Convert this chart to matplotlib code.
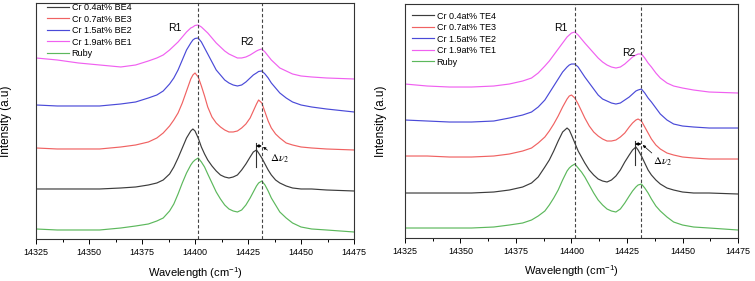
import matplotlib
matplotlib.use("Agg")
import matplotlib.pyplot as plt

plt.rcParams['font.family'] = ['Liberation Sans', 'DejaVu Sans']
plt.rcParams['mathtext.fontset'] = 'stix'

# wavenumber grid (cm-1) the spectra were read at
wn = [14325, 14335, 14345, 14355, 14365,
      14372, 14378, 14382, 14385, 14388,
      14390, 14392, 14394, 14396, 14398,
      14399, 14400, 14401.5, 14403, 14404.5,
      14406, 14408, 14410, 14412, 14414,
      14416, 14418, 14420, 14422, 14424,
      14426, 14427.5, 14429, 14430, 14431.5,
      14433, 14434.5, 14436, 14438, 14440,
      14443, 14446, 14450, 14455, 14462, 14475]

# left panel (BE), stacked intensities in arbitrary units
be4 = [50, 50, 50, 50, 51,
       52, 54, 56, 59, 65,
       72, 81, 91, 101, 108,
       110, 108, 101, 92, 85,
       79, 73, 68, 64, 62,
       61, 62, 64, 69, 75,
       82, 87, 89, 86, 81,
       75, 69, 64, 59, 56,
       53, 51, 50, 50, 49, 48]
be3 = [91, 90, 90, 90, 92,
       94, 97, 101, 106, 113,
       119, 126, 136, 148, 160,
       164, 166, 162, 153, 143,
       132, 122, 116, 112, 109,
       107, 107, 108, 111, 115,
       121, 128, 135, 139, 136,
       127, 118, 111, 105, 101,
       96, 94, 92, 91, 90, 89]
be2 = [134, 133, 133, 133, 135,
       137, 141, 144, 148, 155,
       161, 169, 179, 189, 196,
       199, 200.5, 201, 197, 191,
       185, 177, 169, 164, 159,
       156, 154, 153, 154, 157,
       161, 164, 166, 167.5, 168,
       165, 161, 156, 151, 146,
       141, 137, 134, 132, 130, 127]
be1 = [181, 179, 176, 174, 172,
       174, 178, 181, 184, 189,
       193, 197, 202, 207, 211,
       212, 213.5, 214, 212, 209,
       206, 201, 196, 192, 188,
       185, 183, 181, 181, 182,
       184, 186, 188, 189, 190,
       187, 183, 179, 175, 171,
       168, 165, 163, 162, 161, 160]
ruby_l = [10, 9, 9, 9, 11,
          13, 15, 18, 21, 28,
          35, 45, 56, 66, 74,
          77, 79, 81, 77, 72,
          65, 56, 47, 40, 34,
          30, 28, 27, 29, 34,
          41, 47, 53, 56, 58,
          54, 48, 41, 34, 27,
          21, 16, 12, 10, 9, 7]

# right panel (TE)
te4 = [45, 45, 45, 45, 46,
       48, 51, 55, 61, 71,
       78, 87, 97, 106, 110,
       108, 103, 95, 87, 81,
       75, 68, 63, 59, 57,
       56, 58, 62, 68, 76,
       83, 88, 91, 88, 82,
       75, 68, 63, 58, 54,
       50, 48, 46, 45, 45, 44]
te3 = [82, 82, 81, 81, 82,
       84, 87, 90, 95, 101,
       107, 114, 122, 131, 139,
       142, 143, 140, 134, 127,
       120, 112, 106, 102, 99,
       97, 97, 98, 101, 105,
       111, 115, 118, 119, 117,
       111, 105, 99, 93, 89,
       85, 83, 81, 80, 79, 79]
te2 = [118, 117, 116, 116, 117,
       120, 123, 126, 131, 138,
       145, 152, 159, 166, 171,
       173, 174, 174, 171, 166,
       161, 155, 149, 143, 139,
       137, 135, 134, 135, 138,
       141, 144, 147, 148, 149,
       145, 140, 136, 130, 124,
       118, 114, 112, 111, 110, 110]
te1 = [154, 152, 151, 151, 152,
       154, 157, 160, 165, 172,
       177, 183, 189, 195, 201,
       203, 205, 206, 203, 199,
       195, 190, 185, 180, 176,
       173, 171, 170, 171, 174,
       178, 181, 183, 184, 184,
       180, 175, 171, 165, 160,
       155, 152, 150, 148, 146, 145]
ruby_r = [10, 10, 10, 10, 11,
          13, 15, 18, 22, 27,
          33, 40, 48, 58, 67,
          70, 72, 74, 70, 66,
          61, 53, 45, 38, 33,
          29, 27, 26, 29, 35,
          42, 47, 51, 53, 54,
          50, 45, 39, 32, 27,
          21, 16, 13, 11, 10, 8]

r1_pos = 14401.5
r2_pos = 14431.5
colors = ['#3c3c3c', '#f06262', '#4a4ad8', '#f060f0', '#5cb85c']

fig = plt.figure(figsize=(7.55, 2.81), dpi=100)
ax1 = fig.add_axes([0.0477, 0.1495, 0.4212, 0.8399])
ax2 = fig.add_axes([0.5364, 0.153, 0.4411, 0.8327])


def draw_panel(ax, series, labels, ylim, leg_anchor, r1_xy, r2_xy, shift_x, shift_y, dnu_xy):
    for y, lab, c in zip(series, labels, colors):
        ax.plot(wn, y, color=c, lw=0.85, label=lab)
    ax.axvline(r1_pos, color='#444444', lw=0.8, ls=(0, (3, 2)))
    ax.axvline(r2_pos, color='#444444', lw=0.8, ls=(0, (3, 2)))
    ax.set_xlim(14325, 14475)
    ax.set_ylim(*ylim)
    ax.set_xticks(range(14325, 14476, 25))
    ax.set_xticks([14337.5 + 25 * i for i in range(6)], minor=True)
    ax.set_yticks([])
    ax.tick_params(axis='x', direction='out', length=3.5, width=0.7, labelsize=6.5, pad=3)
    ax.tick_params(axis='x', which='minor', direction='out', length=2.5, width=0.7)
    for s in ax.spines.values():
        s.set_linewidth(0.8)
        s.set_color('#333333')
    ax.set_xlabel(r'Wavelength (cm$^{\mathregular{-1}}$)', fontsize=8)
    ax.set_ylabel('Intensity (a.u)', fontsize=8.5)
    ax.xaxis.set_label_coords(0.5, -0.11)

    ax.text(*r1_xy, 'R1', fontsize=7.5, ha='center', va='center')
    ax.text(*r2_xy, 'R2', fontsize=7.5, ha='center', va='center')

    # shift marker at R2
    ax.plot([shift_x, shift_x], [shift_y - 21, shift_y + 3], color='#333333', lw=0.8)
    ax.annotate('', xy=(r2_pos, shift_y), xytext=(shift_x, shift_y),
                arrowprops=dict(arrowstyle='<|-|>', color='black', lw=0.6,
                                mutation_scale=4, shrinkA=0, shrinkB=0))
    ax.annotate(r'$\Delta\nu_2$', xy=(r2_pos + 0.6, shift_y - 1), xytext=dnu_xy,
                fontsize=8, ha='left', va='center',
                arrowprops=dict(arrowstyle='-|>', color='black', lw=0.5,
                                mutation_scale=4, shrinkA=0, shrinkB=0))

    ax.legend(loc='upper left', bbox_to_anchor=leg_anchor, frameon=False, fontsize=6.5,
              handlelength=2.4, handletextpad=0.3, labelspacing=0.28,
              borderpad=0, borderaxespad=0)


draw_panel(ax1, [be4, be3, be2, be1, ruby_l],
           ['Cr 0.4at% BE4', 'Cr 0.7at% BE3', 'Cr 1.5at% BE2', 'Cr 1.9at% BE1', 'Ruby'],
           (0, 236), (0.035, 1.0), (14390.5, 211), (14424.5, 197), 14428.8, 93, (14435.5, 80))
ax1.yaxis.set_label_coords(-0.075, 0.5)

draw_panel(ax2, [te4, te3, te2, te1, ruby_r],
           ['Cr 0.4at% TE4', 'Cr 0.7at% TE3', 'Cr 1.5at% TE2', 'Cr 1.9at% TE1', 'Ruby'],
           (0, 234), (0.022, 0.968), (14395.3, 210), (14425.9, 185), 14428.6, 94, (14436.5, 76))
ax2.yaxis.set_label_coords(-0.054, 0.5)

fig.savefig('out.png', dpi=100)
